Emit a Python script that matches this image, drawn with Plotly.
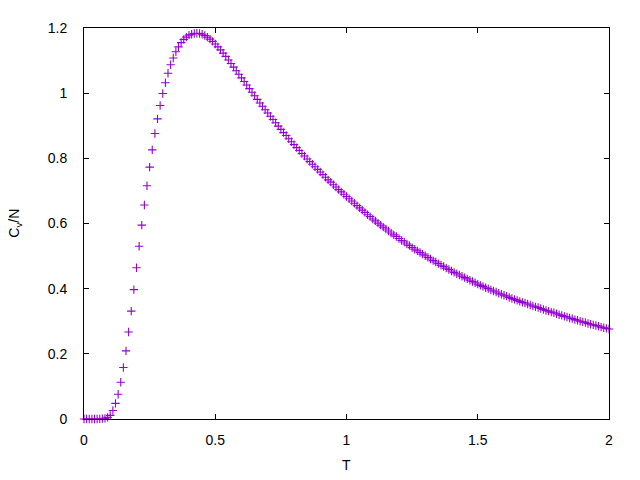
import plotly.graph_objects as go

T = [
    0.00, 0.01, 0.02, 0.03, 0.04, 0.05, 0.06, 0.07, 0.08, 0.09,
    0.10, 0.11, 0.12, 0.13, 0.14, 0.15, 0.16, 0.17, 0.18, 0.19,
    0.20, 0.21, 0.22, 0.23, 0.24, 0.25, 0.26, 0.27, 0.28, 0.29,
    0.30, 0.31, 0.32, 0.33, 0.34, 0.35, 0.36, 0.37, 0.38, 0.39,
    0.40, 0.41, 0.42, 0.43, 0.44, 0.45, 0.46, 0.47, 0.48, 0.49,
    0.50, 0.51, 0.52, 0.53, 0.54, 0.55, 0.56, 0.57, 0.58, 0.59,
    0.60, 0.61, 0.62, 0.63, 0.64, 0.65, 0.66, 0.67, 0.68, 0.69,
    0.70, 0.71, 0.72, 0.73, 0.74, 0.75, 0.76, 0.77, 0.78, 0.79,
    0.80, 0.81, 0.82, 0.83, 0.84, 0.85, 0.86, 0.87, 0.88, 0.89,
    0.90, 0.91, 0.92, 0.93, 0.94, 0.95, 0.96, 0.97, 0.98, 0.99,
    1.00, 1.01, 1.02, 1.03, 1.04, 1.05, 1.06, 1.07, 1.08, 1.09,
    1.10, 1.11, 1.12, 1.13, 1.14, 1.15, 1.16, 1.17, 1.18, 1.19,
    1.20, 1.21, 1.22, 1.23, 1.24, 1.25, 1.26, 1.27, 1.28, 1.29,
    1.30, 1.31, 1.32, 1.33, 1.34, 1.35, 1.36, 1.37, 1.38, 1.39,
    1.40, 1.41, 1.42, 1.43, 1.44, 1.45, 1.46, 1.47, 1.48, 1.49,
    1.50, 1.51, 1.52, 1.53, 1.54, 1.55, 1.56, 1.57, 1.58, 1.59,
    1.60, 1.61, 1.62, 1.63, 1.64, 1.65, 1.66, 1.67, 1.68, 1.69,
    1.70, 1.71, 1.72, 1.73, 1.74, 1.75, 1.76, 1.77, 1.78, 1.79,
    1.80, 1.81, 1.82, 1.83, 1.84, 1.85, 1.86, 1.87, 1.88, 1.89,
    1.90, 1.91, 1.92, 1.93, 1.94, 1.95, 1.96, 1.97, 1.98, 1.99,
    2.00,
]

Cv_per_N = [
    0.0, 0.0, 0.0, 0.0, 0.0, 0.0, 0.0005, 0.001, 0.002, 0.005,
    0.011, 0.026, 0.048, 0.076, 0.113, 0.158, 0.209, 0.267, 0.331, 0.397,
    0.464, 0.530, 0.595, 0.657, 0.716, 0.773, 0.826, 0.876, 0.921, 0.962,
    0.999, 1.032, 1.061, 1.087, 1.108, 1.127, 1.142, 1.155, 1.165, 1.172,
    1.178, 1.181, 1.183, 1.184, 1.183, 1.181, 1.177, 1.172, 1.166, 1.159,
    1.151, 1.142, 1.133, 1.123, 1.113, 1.102, 1.091, 1.080, 1.069, 1.058,
    1.047, 1.036, 1.025, 1.014, 1.003, 0.992, 0.981, 0.970, 0.960, 0.949,
    0.939, 0.929, 0.919, 0.909, 0.899, 0.889, 0.879, 0.870, 0.860, 0.851,
    0.842, 0.833, 0.824, 0.815, 0.807, 0.798, 0.790, 0.782, 0.774, 0.766,
    0.758, 0.750, 0.742, 0.734, 0.727, 0.719, 0.712, 0.704, 0.697, 0.690,
    0.683, 0.676, 0.669, 0.662, 0.655, 0.648, 0.641, 0.634, 0.627, 0.621,
    0.614, 0.608, 0.601, 0.595, 0.589, 0.583, 0.577, 0.571, 0.565, 0.560,
    0.554, 0.548, 0.543, 0.537, 0.532, 0.526, 0.521, 0.516, 0.511, 0.506,
    0.501, 0.496, 0.491, 0.486, 0.482, 0.477, 0.472, 0.468, 0.463, 0.459,
    0.454, 0.450, 0.446, 0.442, 0.438, 0.434, 0.430, 0.426, 0.422, 0.418,
    0.414, 0.410, 0.407, 0.403, 0.400, 0.396, 0.393, 0.390, 0.386, 0.383,
    0.380, 0.377, 0.373, 0.370, 0.367, 0.364, 0.361, 0.358, 0.356, 0.353,
    0.350, 0.347, 0.344, 0.342, 0.339, 0.336, 0.333, 0.331, 0.328, 0.326,
    0.323, 0.320, 0.318, 0.315, 0.313, 0.310, 0.308, 0.305, 0.303, 0.300,
    0.298, 0.296, 0.293, 0.291, 0.289, 0.287, 0.285, 0.282, 0.280, 0.278,
    0.276,
]

x_ticks = [0, 0.5, 1, 1.5, 2]
x_tick_labels = ["0", "0.5", "1", "1.5", "2"]
y_ticks = [0, 0.2, 0.4, 0.6, 0.8, 1.0, 1.2]
y_tick_labels = ["0", "0.2", "0.4", "0.6", "0.8", "1", "1.2"]

PURPLE = "#9400D3"
FONT = dict(family="Liberation Sans, Arial, sans-serif", size=14, color="black")

assert len(T) == len(Cv_per_N)

fig = go.Figure(
    go.Scatter(
        x=T,
        y=Cv_per_N,
        mode="markers",
        marker=dict(symbol="cross-thin", size=6, color=PURPLE,
                    line=dict(width=1.1, color=PURPLE)),
        cliponaxis=False,
        showlegend=False,
    )
)

axis_common = dict(
    showline=True, linecolor="black", linewidth=1, mirror="ticks",
    ticks="inside", ticklen=5, tickcolor="black", tickwidth=1,
    showgrid=False, zeroline=False, tickfont=FONT,
)

# The page body has an 8px default margin, so the figure sits 8px in from
# the window's top-left corner; margins are chosen so the plot frame lands
# where the reference's frame is.
fig.update_layout(
    width=640, height=480,
    margin=dict(l=76, r=39, t=12, b=69, pad=0),
    paper_bgcolor="white", plot_bgcolor="white",
    font=FONT,
    xaxis=dict(range=[0, 2], tickvals=x_ticks, ticktext=x_tick_labels,
               ticklabelstandoff=8, **axis_common),
    yaxis=dict(range=[0, 1.2], tickvals=y_ticks, ticktext=y_tick_labels,
               ticklabelstandoff=13, **axis_common),
    annotations=[
        dict(text="T", xref="paper", yref="paper", x=0.5, y=-0.118,
             xanchor="center", yanchor="middle", showarrow=False, font=FONT),
        dict(text="C<sub>v</sub>/N", xref="paper", yref="paper", x=-0.133, y=0.5,
             xanchor="center", yanchor="middle", textangle=-90,
             showarrow=False, font=FONT),
    ],
)

fig.write_html("out.html")
